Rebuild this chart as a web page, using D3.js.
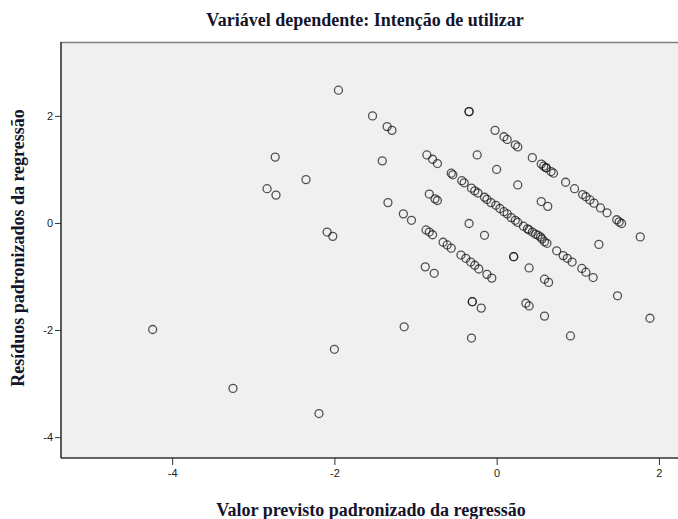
<!DOCTYPE html>
<html>
<head>
<meta charset="utf-8">
<script src="https://cdn.jsdelivr.net/npm/d3@7"></script>
<style>
  html, body { margin: 0; padding: 0; background: #ffffff; }
  svg { display: block; }
</style>
</head>
<body>
<svg id="chart" width="678" height="519"></svg>
<script>
// ---- Data ----
const chartTitle = "Variável dependente: Intenção de utilizar";
const xTitle = "Valor previsto padronizado da regressão";
const yTitle = "Resíduos padronizados da regressão";
const xTicks = [-4, -2, 0, 2];
const yTicks = [2, 0, -2, -4];
const xDomain = [-5.37, 2.26];
const yDomain = [-4.39, 3.38];

// Standardized predicted values (x)
const predicted = [
  -4.24,-3.25,-2.73,-2.83,-2.72,-2.35,-2.09,-2.02,-2.19,-2.00,-1.95,-1.53,-1.35,-1.29,-1.41,-1.34,-1.15,-1.05,-1.14,
  -0.34,-0.34,-0.02,0.09,0.13,0.23,0.26,0.44,0.55,0.58,0.61,0.61,0.67,0.70,0.85,0.96,1.06,1.10,1.15,1.20,1.28,1.36,1.48,1.51,1.54,1.77,
  -0.86,-0.79,-0.73,-0.56,-0.54,-0.43,-0.40,-0.31,-0.27,-0.23,-0.15,-0.12,-0.07,-0.01,0.04,0.09,0.13,0.18,0.23,0.26,0.33,0.38,0.40,0.44,0.48,0.51,0.54,0.56,0.59,0.62,0.74,0.82,0.87,0.93,1.05,1.10,1.19,
  -0.24,0.00,0.26,0.55,0.63,1.26,
  -0.83,-0.76,-0.73,-0.34,-0.15,-0.87,-0.83,-0.79,-0.66,-0.61,-0.56,-0.44,-0.38,-0.32,-0.27,-0.22,-0.12,-0.06,0.21,0.21,0.40,0.59,0.64,-0.88,-0.77,
  -0.30,-0.30,-0.19,0.36,0.40,0.59,-0.31,0.91,1.49,1.89
];
// Standardized residuals (y)
const residuals = [
  -1.99,-3.09,1.23,0.64,0.52,0.81,-0.17,-0.25,-3.56,-2.36,2.48,2.00,1.80,1.73,1.16,0.38,0.17,0.05,-1.94,
  2.08,2.08,1.73,1.61,1.56,1.46,1.42,1.22,1.10,1.06,1.03,1.03,0.96,0.93,0.76,0.64,0.53,0.49,0.43,0.37,0.28,0.19,0.06,0.02,-0.01,-0.26,
  1.27,1.19,1.11,0.93,0.90,0.79,0.75,0.65,0.60,0.56,0.48,0.44,0.38,0.33,0.27,0.21,0.17,0.10,0.05,0.01,-0.06,-0.11,-0.13,-0.17,-0.21,-0.23,-0.26,-0.30,-0.35,-0.38,-0.52,-0.61,-0.66,-0.73,-0.85,-0.92,-1.02,
  1.27,1.00,0.71,0.40,0.31,-0.40,
  0.54,0.45,0.42,-0.01,-0.23,-0.13,-0.17,-0.22,-0.36,-0.41,-0.47,-0.60,-0.66,-0.73,-0.79,-0.86,-0.96,-1.03,-0.63,-0.63,-0.84,-1.05,-1.11,-0.82,-0.94,
  -1.47,-1.47,-1.59,-1.50,-1.55,-1.74,-2.15,-2.11,-1.36,-1.78
];

const points = predicted.map((x, i) => ({ x, y: residuals[i] }));

// ---- Layout ----
const svg = d3.select("#chart");
const plot = { left: 61, top: 42, right: 680, bottom: 458 };

const x = d3.scaleLinear().domain(xDomain).range([plot.left, plot.right]);
const y = d3.scaleLinear().domain(yDomain).range([plot.bottom, plot.top]);

// background
svg.append("rect")
  .attr("x", plot.left).attr("y", plot.top)
  .attr("width", plot.right - plot.left).attr("height", plot.bottom - plot.top)
  .attr("fill", "#f0f0f0");

// top frame line (gray)
svg.append("line")
  .attr("x1", plot.left).attr("x2", plot.right)
  .attr("y1", plot.top + 0.5).attr("y2", plot.top + 0.5)
  .attr("stroke", "#808080").attr("stroke-width", 1.5);

// axes
const fmt = d => String(d);
const xAxis = d3.axisBottom(x).tickValues(xTicks).tickSize(7).tickPadding(4).tickFormat(fmt);
const yAxis = d3.axisLeft(y).tickValues(yTicks).tickSize(6).tickPadding(2).tickFormat(fmt);

const gx = svg.append("g")
  .attr("transform", `translate(0,${plot.bottom})`)
  .call(xAxis);
const gy = svg.append("g")
  .attr("transform", `translate(${plot.left},0)`)
  .call(yAxis);

[gx, gy].forEach(g => {
  g.select(".domain").attr("stroke", "#333").attr("stroke-width", 1.6);
  g.selectAll(".tick line").attr("stroke", "#333").attr("stroke-width", 1);
  g.selectAll(".tick text")
    .attr("fill", "#222")
    .style("font-family", "'Liberation Sans', Arial, sans-serif")
    .style("font-size", "11px");
});
gx.select(".domain").attr("d", `M${plot.left},0H${plot.right}`);
gy.select(".domain").attr("d", `M0,${plot.top}V${plot.bottom}`);

// points
svg.append("g")
  .selectAll("circle")
  .data(points)
  .join("circle")
  .attr("cx", d => x(d.x))
  .attr("cy", d => y(d.y))
  .attr("r", 4)
  .attr("fill", "none")
  .attr("stroke", "rgba(20,20,20,0.72)")
  .attr("stroke-width", 1.3);

// titles
const titleFont = "'Liberation Serif', 'Times New Roman', serif";
function title(sel) {
  return sel.attr("text-anchor", "middle")
    .style("font-family", titleFont)
    .style("font-weight", "bold")
    .style("font-size", "18px")
    .attr("fill", "#14142b");
}
svg.append("text").attr("x", 365).attr("y", 26).call(title).text(chartTitle);
svg.append("text").attr("x", 371).attr("y", 516).call(title).text(xTitle);
svg.append("text")
  .attr("transform", "translate(24,248) rotate(-90)")
  .call(title).text(yTitle);
</script>
</body>
</html>
